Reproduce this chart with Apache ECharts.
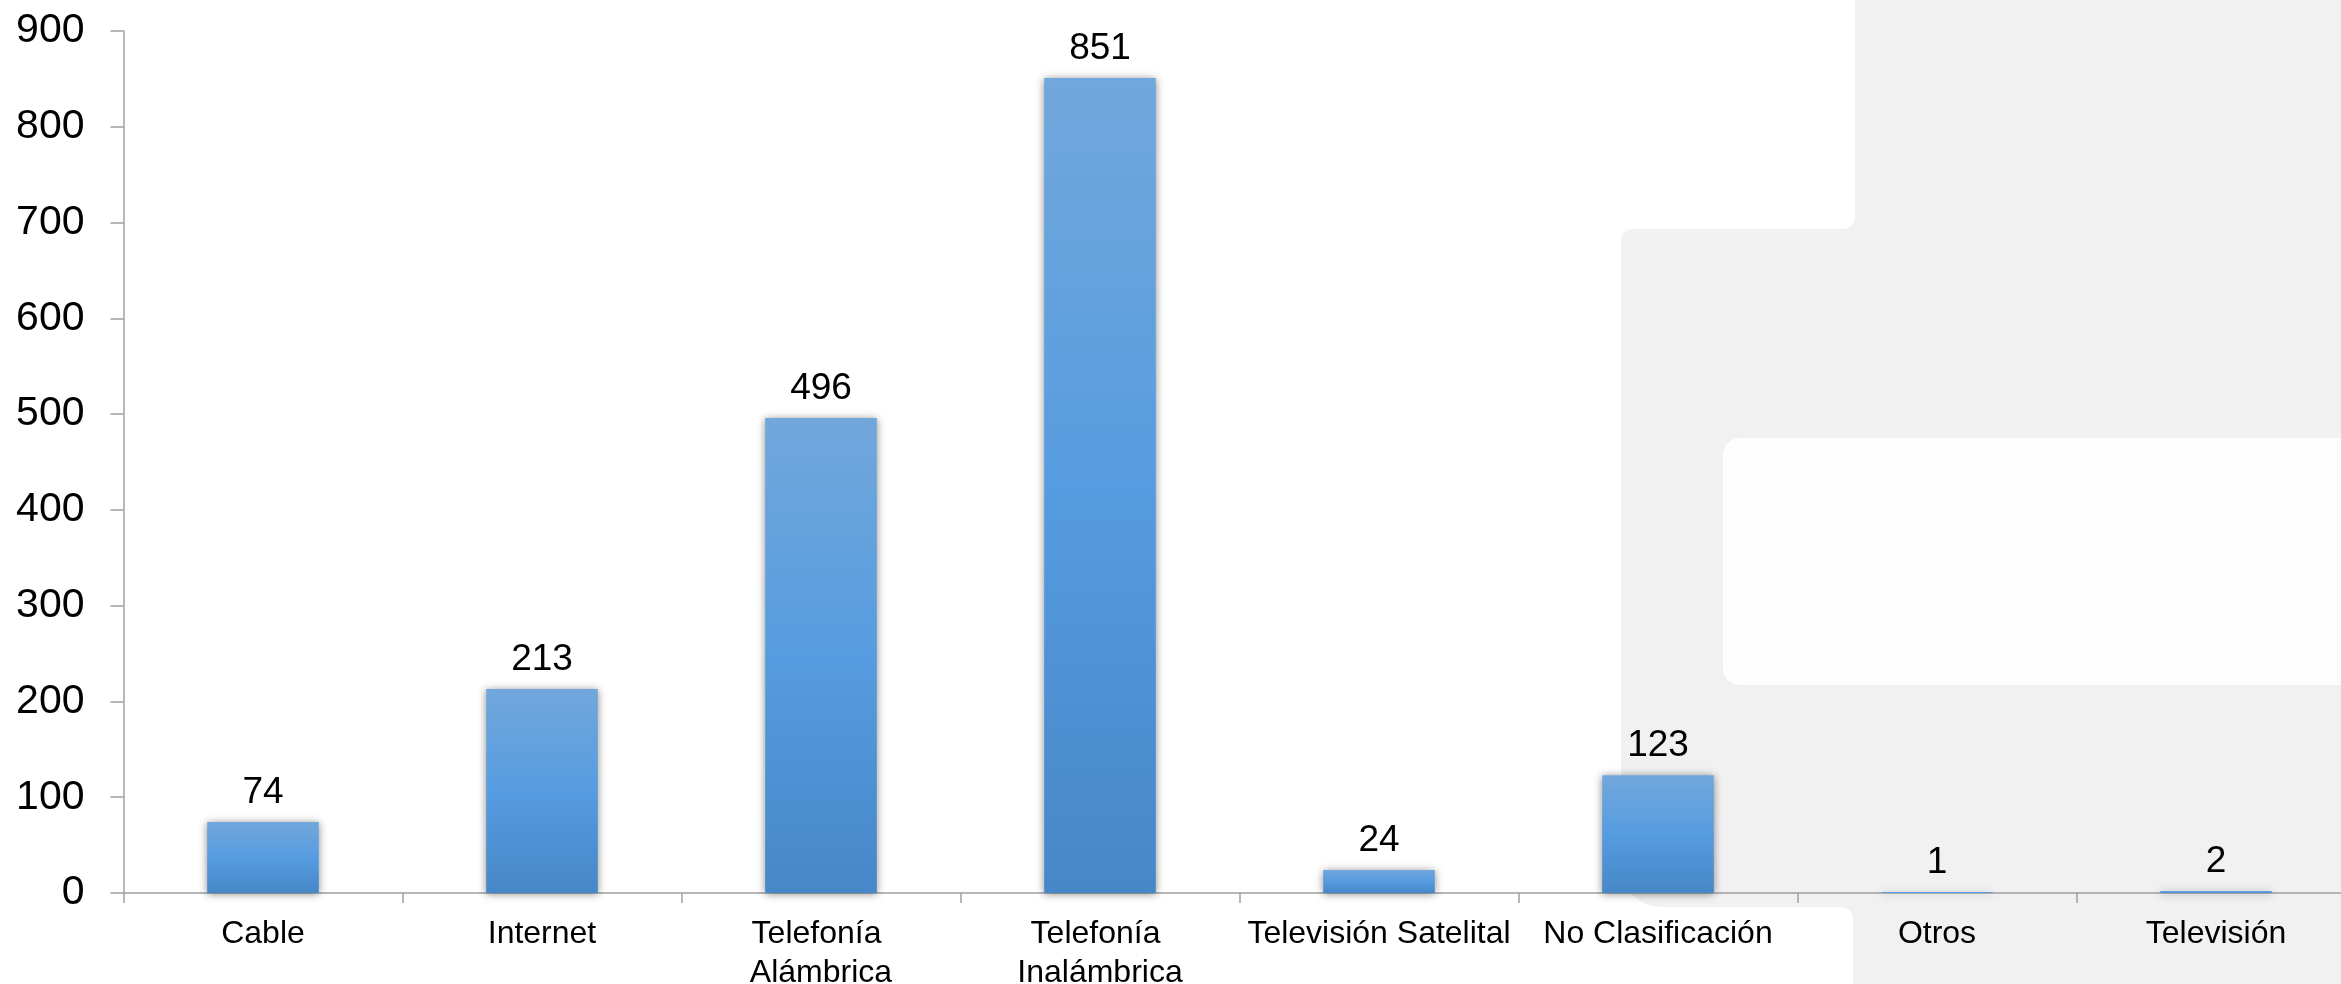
<!DOCTYPE html>
<html><head><meta charset="utf-8">
<script src="https://cdn.jsdelivr.net/npm/echarts@6/dist/echarts.min.js"></script>
<style>html,body{margin:0;padding:0;background:#fff}#c{width:2341px;height:984px}</style>
</head><body><div id="c"></div>
<script>
const categories = ['Cable', 'Internet', 'Telefonía Alámbrica', 'Telefonía Inalámbrica', 'Televisión Satelital', 'No Clasificación', 'Otros', 'Televisión'];
const values = [74, 213, 496, 851, 24, 123, 1, 2];
const yMin = 0, yMax = 900, yStep = 100;

const chart = echarts.init(document.getElementById('c'), null, {renderer: 'canvas'});
const gray = '#f0f1f0';
chart.setOption({
  backgroundColor: '#ffffff',
  animation: false,
  graphic: [
    {type: 'rect', z: -10, shape: {x: 1843, y: 0, width: 520, height: 1000}, style: {fill: gray}},
    {type: 'rect', z: -10, shape: {x: 1621, y: 229, width: 740, height: 678, r: [12, 0, 0, 40]}, style: {fill: gray}},
    {type: 'rect', z: -9, shape: {x: 1590, y: -20, width: 265, height: 249, r: [0, 0, 12, 0]}, style: {fill: '#ffffff'}},
    {type: 'rect', z: -9, shape: {x: 1500, y: 907, width: 353, height: 100, r: [0, 12, 0, 0]}, style: {fill: '#ffffff'}},
    {type: 'rect', z: -9, shape: {x: 1723, y: 438, width: 700, height: 247, r: 17}, style: {fill: '#fefefe'}}
  ],
  grid: {left: 123.5, width: 2232, top: 31, bottom: 91, containLabel: false, outerBoundsMode: 'none'},
  xAxis: {
    type: 'category',
    data: categories,
    axisLine: {lineStyle: {color: '#a0a0a0', width: 1.5}},
    axisTick: {show: true, length: 10, lineStyle: {color: '#a0a0a0', width: 1.5}},
    axisLabel: {
      interval: 0, margin: 22, color: '#000',
      fontFamily: 'Liberation Sans, Arial, sans-serif', fontSize: 32, lineHeight: 39,
      width: 283, overflow: 'break'
    }
  },
  yAxis: {
    type: 'value', min: yMin, max: yMax, interval: yStep,
    splitLine: {show: false},
    axisLine: {show: true, lineStyle: {color: '#a0a0a0', width: 1.5}},
    axisTick: {show: true, length: 13, lineStyle: {color: '#a0a0a0', width: 1.5}},
    axisLabel: {margin: 39, color: '#000', fontFamily: 'Liberation Sans, sans-serif', fontSize: 41}
  },
  series: [{
    type: 'bar',
    data: values,
    barWidth: '40%',
    itemStyle: {
      color: new echarts.graphic.LinearGradient(0, 0, 0, 1, [
        {offset: 0, color: '#72a7dc'},
        {offset: 0.5, color: '#569ce0'},
        {offset: 1, color: '#4687c8'}
      ]),
      shadowColor: 'rgba(0,0,0,0.45)', shadowBlur: 8, shadowOffsetX: 0, shadowOffsetY: 1
    },
    label: {
      show: true, position: 'top', distance: 11, color: '#000',
      fontFamily: 'Liberation Sans, sans-serif', fontSize: 37
    }
  }]
});
</script></body></html>
